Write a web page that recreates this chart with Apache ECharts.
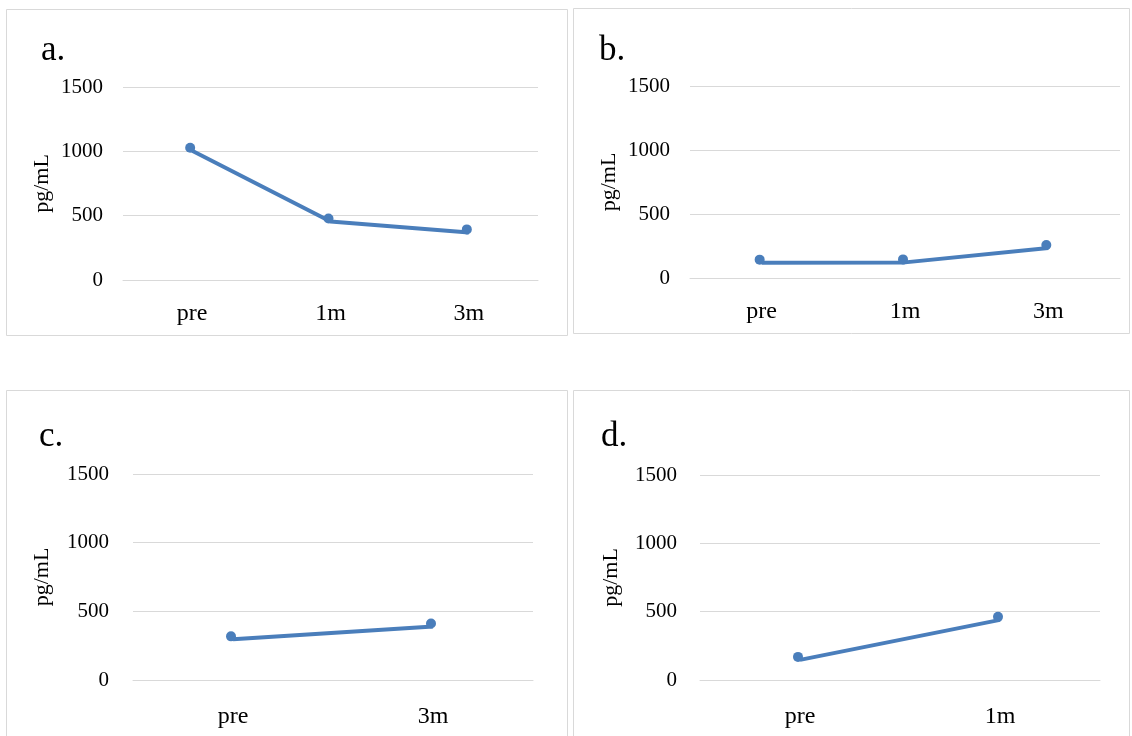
<!DOCTYPE html>
<html>
<head>
<meta charset="utf-8">
<script src="https://cdn.jsdelivr.net/npm/echarts@6/dist/echarts.min.js"></script>
<style>
  html, body { margin: 0; padding: 0; background: #fff; }
  #chart { width: 1132px; height: 736px; }
</style>
</head>
<body>
<div id="chart"></div>
<script>
// data (pg/mL)
const catsA = ['pre', '1m', '3m']
const valsA = [1005, 455, 370]
const catsB = ['pre', '1m', '3m']
const valsB = [120, 122, 235]
const catsC = ['pre', '3m']
const valsC = [296, 390]
const catsD = ['pre', '1m']
const valsD = [147, 440]
const panelLabels = ['a.', 'b.', 'c.', 'd.']
const yTicks = [0, 500, 1000, 1500]

const font = '"Liberation Serif", "Times New Roman", serif'
const blue = '#4a7ebb'
const gray = '#d9d9d9'

// panel frames and plot areas
const panels = [
  { frame: [6, 9, 561, 326], grid: { left: 123, top: 87, width: 415, height: 193 }, title: [36, 28], nameGap: 70, labelGap: 20, catGap: 22 },
  { frame: [573, 8, 556, 325], grid: { left: 690, top: 86, width: 430, height: 192 }, title: [594, 28], nameGap: 70, labelGap: 20, catGap: 22 },
  { frame: [6, 390, 561, 360], grid: { left: 133, top: 474, width: 400, height: 206 }, title: [34, 414], nameGap: 80, labelGap: 24, catGap: 25 },
  { frame: [573, 390, 556, 360], grid: { left: 700, top: 475, width: 400, height: 205 }, title: [596, 414], nameGap: 78, labelGap: 23, catGap: 25 }
]
const cats = [catsA, catsB, catsC, catsD]
const vals = [valsA, valsB, valsC, valsD]

const myChart = echarts.init(document.getElementById('chart'))

const options = {
  backgroundColor: '#fff',
  animation: false,
  title: panels.map((p, i) => ({
    text: panelLabels[i],
    left: p.title[0],
    top: p.title[1],
    textStyle: { fontFamily: font, fontSize: 35, fontWeight: 'normal', color: '#000' }
  })),
  graphic: panels.map(p => ({
    type: 'rect',
    shape: { x: p.frame[0] + 0.5, y: p.frame[1] + 0.5, width: p.frame[2], height: p.frame[3] },
    style: { fill: null, stroke: gray, lineWidth: 1 },
    silent: true
  })),
  grid: panels.map(p => p.grid),
  xAxis: panels.map((p, i) => ({
    type: 'category',
    gridIndex: i,
    data: cats[i],
    boundaryGap: true,
    axisLine: { show: true, lineStyle: { color: gray, width: 1 } },
    axisTick: { show: false },
    axisLabel: { fontFamily: font, fontSize: 24, color: '#000', margin: p.catGap }
  })),
  yAxis: panels.map((p, i) => ({
    type: 'value',
    gridIndex: i,
    min: yTicks[0],
    max: yTicks[yTicks.length - 1],
    interval: 500,
    name: 'pg/mL',
    nameLocation: 'middle',
    nameRotate: 90,
    nameGap: p.nameGap,
    nameTextStyle: { fontFamily: font, fontSize: 22, color: '#000' },
    axisLine: { show: false },
    axisTick: { show: false },
    splitLine: { lineStyle: { color: gray, width: 1 } },
    axisLabel: {
      fontFamily: font, fontSize: 21, color: '#000', margin: p.labelGap,
      formatter: v => String(v)
    }
  })),
  series: panels.map((p, i) => ({
    type: 'line',
    xAxisIndex: i,
    yAxisIndex: i,
    data: vals[i],
    symbol: 'circle',
    symbolSize: 10,
    symbolOffset: [-2, -3],
    lineStyle: { color: blue, width: 4 },
    itemStyle: { color: blue }
  }))
}
myChart.setOption(options)
</script>
</body>
</html>
